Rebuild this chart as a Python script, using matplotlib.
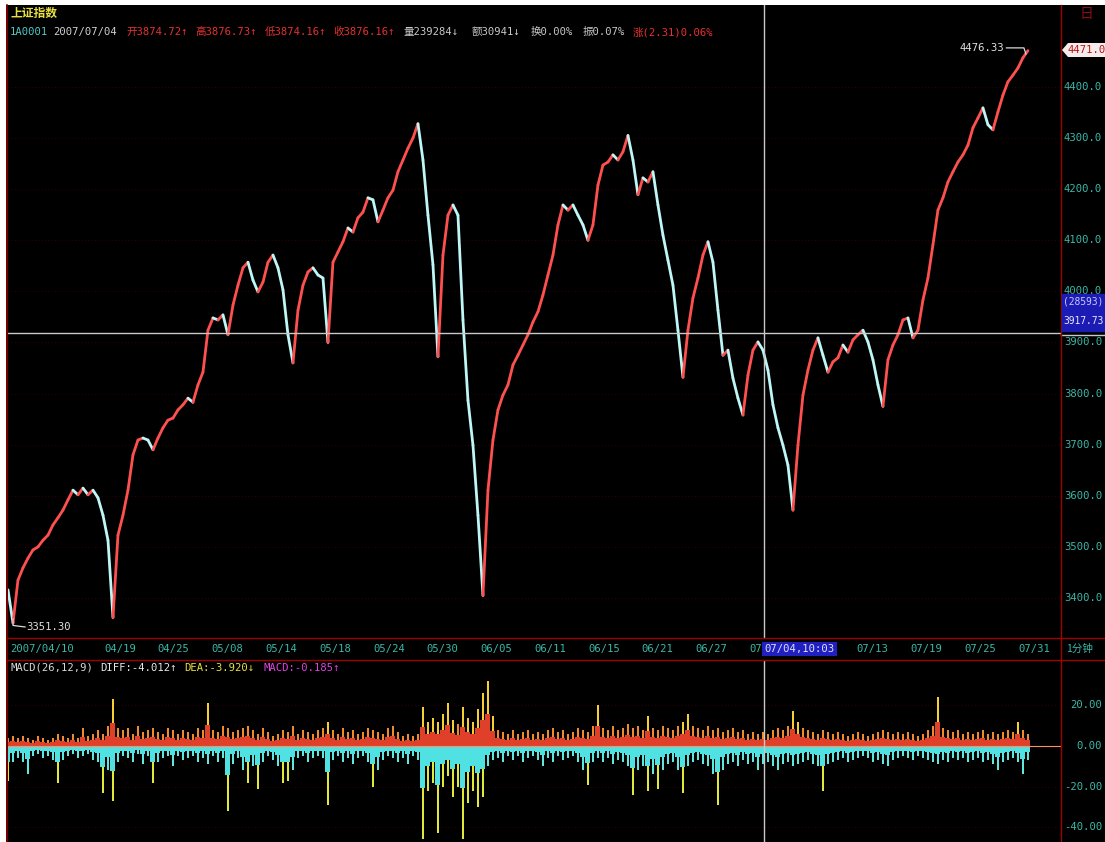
import numpy as np
import matplotlib
matplotlib.use('Agg')
import matplotlib.pyplot as plt
from matplotlib.collections import LineCollection
from matplotlib.transforms import blended_transform_factory, Bbox
from matplotlib.patches import Rectangle, Polygon

# ---------------- data ----------------
title = "上证指数"
n_days = 76  # trading days 2007/04/10 .. 2007/07/31
date_labels = ["2007/04/10", "04/19", "04/25", "05/08", "05/14", "05/18", "05/24",
               "05/30", "06/05", "06/11", "06/15", "06/21", "06/27", "07/03",
               "07/09", "07/13", "07/19", "07/25", "07/31"]
date_days = [0, 7, 11, 15, 19, 23, 27, 31, 35, 39, 43, 47, 51, 55, 59, 63, 67, 71, 75]

prices = [
    3416, 3351, 3435, 3459, 3478, 3494, 3500, 3513, 3523, 3543,
    3557, 3572, 3592, 3611, 3602, 3615, 3602, 3611, 3596, 3562,
    3513, 3362, 3523, 3562, 3611, 3680, 3709, 3713, 3709, 3690,
    3713, 3733, 3748, 3752, 3768, 3778, 3791, 3783, 3817, 3842,
    3924, 3948, 3944, 3954, 3915, 3973, 4012, 4046, 4057, 4022,
    3999, 4018, 4057, 4071, 4046, 4003, 3915, 3860, 3963, 4012,
    4038, 4046, 4032, 4026, 3900, 4057, 4077, 4097, 4124, 4116,
    4144, 4155, 4183, 4179, 4136, 4159, 4183, 4198, 4234, 4257,
    4280, 4300, 4328, 4257, 4149, 4052, 3872, 4071, 4149, 4169,
    4149, 3944, 3787, 3699, 3562, 3405, 3611, 3709, 3768, 3797,
    3817, 3856, 3875, 3895, 3915, 3940, 3960, 3993, 4032, 4071,
    4130, 4169, 4159, 4169, 4149, 4130, 4100, 4130, 4208, 4247,
    4253, 4267, 4257, 4273, 4305, 4257, 4189, 4222, 4214, 4234,
    4169, 4110, 4061, 4012, 3924, 3832, 3924, 3987, 4026, 4071,
    4097, 4057, 3963, 3875, 3885, 3830, 3791, 3758, 3836, 3885,
    3901, 3885, 3846, 3778, 3733, 3699, 3660, 3572, 3699, 3797,
    3846, 3885, 3909, 3875, 3842, 3862, 3870, 3895, 3881, 3905,
    3915, 3924, 3901, 3866, 3817, 3775, 3866, 3895, 3915, 3944,
    3948, 3909, 3924, 3983, 4026, 4091, 4159, 4183, 4214, 4234,
    4253, 4267, 4286, 4320, 4339, 4359, 4326, 4316, 4351, 4384,
    4410, 4423, 4437, 4457, 4471,
]

macd_pos = [
    4, 5, 4, 5, 4, 3, 5, 4, 3, 4,
    6, 5, 4, 6, 4, 9, 5, 6, 8, 6,
    10, 23, 9, 8, 9, 6, 10, 7, 8, 9,
    7, 6, 9, 8, 6, 8, 7, 6, 9, 8,
    21, 8, 7, 10, 9, 7, 8, 9, 10, 8,
    6, 9, 7, 5, 6, 8, 7, 10, 6, 8,
    7, 6, 8, 9, 12, 8, 6, 9, 7, 8,
    6, 7, 9, 8, 7, 6, 9, 10, 7, 5,
    6, 5, 6, 19, 12, 14, 12, 16, 21, 13,
    11, 19, 14, 12, 18, 26, 32, 15, 8, 7,
    6, 8, 6, 7, 8, 6, 7, 6, 8, 9,
    7, 8, 6, 7, 9, 8, 7, 10, 20, 9,
    8, 10, 8, 9, 11, 9, 10, 8, 15, 9,
    8, 10, 9, 8, 10, 12, 16, 10, 9, 8,
    10, 8, 9, 7, 8, 9, 7, 8, 6, 7,
    6, 7, 6, 8, 9, 8, 10, 17, 12, 9,
    8, 7, 6, 8, 7, 6, 7, 6, 5, 6,
    7, 6, 5, 6, 7, 8, 7, 6, 7, 6,
    7, 6, 5, 6, 8, 10, 24, 9, 8, 7,
    8, 6, 7, 6, 7, 8, 6, 7, 6, 7,
    8, 7, 12, 8, 6,
]

macd_neg = [
    17, 8, 6, 8, 14, 5, 4, 6, 5, 7,
    18, 7, 5, 4, 6, 5, 4, 7, 8, 23,
    12, 27, 8, 5, 6, 8, 4, 9, 5, 18,
    8, 6, 5, 10, 5, 7, 6, 5, 8, 6,
    9, 5, 8, 6, 32, 9, 6, 12, 18, 10,
    21, 8, 5, 7, 10, 18, 17, 12, 6, 5,
    8, 6, 5, 6, 29, 7, 5, 8, 6, 9,
    6, 5, 8, 20, 12, 7, 5, 6, 8, 6,
    9, 5, 7, 46, 22, 18, 43, 20, 15, 25,
    20, 46, 28, 22, 30, 25, 10, 7, 6, 8,
    5, 7, 5, 8, 6, 5, 7, 10, 6, 8,
    5, 7, 6, 5, 8, 12, 19, 8, 6, 8,
    6, 9, 7, 8, 10, 24, 12, 10, 22, 14,
    21, 12, 9, 8, 12, 23, 10, 8, 7, 9,
    10, 14, 29, 12, 9, 8, 10, 7, 9, 8,
    12, 9, 8, 10, 12, 9, 8, 10, 9, 8,
    7, 9, 10, 22, 9, 8, 7, 6, 8, 7,
    6, 5, 6, 8, 7, 9, 10, 7, 6, 5,
    6, 7, 5, 6, 7, 8, 9, 7, 8, 6,
    7, 6, 8, 7, 6, 8, 7, 9, 12, 8,
    7, 6, 8, 14, 7,
]

price_ticks = [3400, 3500, 3600, 3700, 3800, 3900, 4000, 4100, 4200, 4300, 4400]
macd_ticks = [20, 0, -20, -40]
high_value = 4476.33
low_value = 3351.30
last_value = 4471.0
cross_day = 56 + 33 / 240.0   # 07/04 10:03
cross_price = 3917.73

# ---------------- figure ----------------
W, H = 1105, 842
fig = plt.figure(figsize=(W / 100, H / 100), dpi=100, facecolor='white')


def fx(px):
    return px / W


def fy(py):
    return 1 - py / H


MONO = ['DejaVu Sans Mono', 'Noto Sans CJK SC']
CJK = ['Noto Sans CJK SC', 'DejaVu Sans']
TEAL = '#3cb8a8'
RED_LINE = '#8a0000'
FS = 7.6

bg = fig.add_axes([fx(6), 0, 1 - fx(6), fy(5)])
bg.set_facecolor('black')
bg.set_xticks([]); bg.set_yticks([])
for s in bg.spines.values():
    s.set_visible(False)

ymin_p = 3400 - (638 - 598) / 0.5111
ymax_p = 3400 + (598 - 5) / 0.5111
day_px = 13.44
xmin = -2 / day_px
xmax = 1051 / day_px

axp = fig.add_axes([fx(8), fy(638), fx(1061) - fx(8), fy(5) - fy(638)])
axm = fig.add_axes([fx(8), 0, fx(1061) - fx(8), fy(660)])
for ax in (axp, axm):
    ax.set_facecolor('black')
    ax.set_xticks([]); ax.set_yticks([])
    for s in ax.spines.values():
        s.set_visible(False)
    ax.set_xlim(xmin, xmax)
axp.set_ylim(ymin_p, ymax_p)
axm.set_ylim(-(842 - 746) / 2.03, (746 - 660) / 2.03)

n = len(prices)
xs = np.linspace(-0.15, 75.74, n)
p = np.array(prices, dtype=float)

# grid
for v in price_ticks:
    axp.axhline(v, color='#4a0000', lw=0.6, ls=(0, (1, 3)), zorder=1)
for v in [20, -20, -40]:
    axm.axhline(v, color='#4a0000', lw=0.6, ls=(0, (1, 3)), zorder=1)

# price line coloured by direction
segs = [[(xs[i - 1], p[i - 1]), (xs[i], p[i])] for i in range(1, n)]
cols = ['#ff5050' if p[i] >= p[i - 1] else '#bff6f6' for i in range(1, n)]
axp.add_collection(LineCollection(segs, colors=cols, linewidths=2.0, zorder=3,
                                  capstyle='round'))

# MACD bars: dense base band + thin spikes
mp = np.array(macd_pos, dtype=float)
mn = np.array(macd_neg, dtype=float)
bw = (xs[1] - xs[0])
pos_tip = ['#f6d030' if v >= 12 else '#f08a2a' for v in mp]
neg_tip = ['#e0e838' if v >= 15 else '#5ee8e0' for v in mn]
axm.bar(xs, mp, width=bw * 0.32, color=pos_tip, zorder=3, linewidth=0)
axm.bar(xs, mp * 0.5, width=bw * 1.0, color='#e0402a', zorder=4, linewidth=0)
axm.bar(xs, -mn, width=bw * 0.32, color=neg_tip, zorder=3, linewidth=0)
axm.bar(xs, -mn * 0.45, width=bw * 1.0, color='#50e2e2', zorder=4, linewidth=0)
axm.axhline(0, color='#ff9060', lw=0.8, zorder=5)

# crosshair
axp.axvline(cross_day, color='#c8c8c8', lw=1.0, zorder=6)
axm.axvline(cross_day, color='#c8c8c8', lw=1.0, zorder=6)
axp.axhline(cross_price, color='#c8c8c8', lw=1.0, zorder=6)
fig.add_artist(plt.Line2D([fx(1061), 1], [fy(335), fy(335)], color='#c8c8c8', lw=1.0))

# high / low annotations
axp.plot([xs[-1] - 1.6, xs[-1] - 0.3, xs[-1] - 0.15],
         [high_value, high_value, high_value - 12], color='#d8d8d8', lw=0.9, zorder=7)
axp.text(xs[-1] - 1.75, high_value, f"{high_value:.2f}", color='#e0e0e0', fontsize=FS,
         family=MONO, ha='right', va='center', zorder=7)
axp.plot([xs[1], xs[1], xs[1] + 0.9], [low_value + 8, low_value - 5, low_value - 8],
         color='#d8d8d8', lw=0.9, zorder=7)
axp.text(xs[1] + 1.0, low_value - 9, f"{low_value:.2f}", color='#e0e0e0', fontsize=FS,
         family=MONO, ha='left', va='center', zorder=7)

# frame lines
fig.add_artist(plt.Line2D([fx(7), fx(7)], [0, fy(5)], color=RED_LINE, lw=1.2))
fig.add_artist(plt.Line2D([fx(1061), fx(1061)], [0, fy(5)], color='#a00000', lw=1.0))
fig.add_artist(plt.Line2D([fx(7), 1], [fy(638), fy(638)], color='#a00000', lw=1.0))
fig.add_artist(plt.Line2D([fx(7), 1], [fy(660), fy(660)], color='#a00000', lw=1.0))

# right axis labels
tp = blended_transform_factory(fig.transFigure, axp.transData)
for v in price_ticks:
    axp.text(fx(1064), v, f"{v:.1f}", transform=tp, color=TEAL, fontsize=FS,
             family=MONO, ha='left', va='center', clip_on=False)
tm = blended_transform_factory(fig.transFigure, axm.transData)
for v in macd_ticks:
    axm.text(fx(1102), v, f"{v:.2f}", transform=tm, color=TEAL, fontsize=FS,
             family=MONO, ha='right', va='center', clip_on=False)

# cross price box on right axis
fig.add_artist(Rectangle((fx(1062), fy(331)), fx(1105) - fx(1062), fy(294) - fy(331),
                         transform=fig.transFigure, color='#1c1cb4', zorder=5))
fig.text(fx(1063), fy(302), "(28593)", color='#c8c8ff', fontsize=6.9, family=MONO,
         ha='left', va='center', zorder=6)
fig.text(fx(1063), fy(321), f"{cross_price:.2f}", color='#e8e8ff', fontsize=6.9, family=MONO,
         ha='left', va='center', zorder=6)

# last price marker
fig.add_artist(Polygon([(fx(1062), fy(50)), (fx(1068), fy(43)), (fx(1105), fy(43)),
                        (fx(1105), fy(57)), (fx(1068), fy(57))],
                       closed=True, transform=fig.transFigure, facecolor='#f4ecec',
                       edgecolor='none', zorder=5))
fig.text(fx(1068), fy(50), f"{last_value:.1f}", color='#c01010', fontsize=FS, family=MONO,
         ha='left', va='center', zorder=6)
fig.text(fx(1080), fy(14), "日", color='#8a1010', fontsize=10, family=CJK,
         ha='left', va='center')

# date axis (labels under the crosshair box are cut off by it)
td = blended_transform_factory(axp.transData, fig.transFigure)
box_left_px = axp.transData.transform((cross_day, 0))[0] - 2
for lab, d in zip(date_labels, date_days):
    t = axp.text(d, fy(649), lab, transform=td, color=TEAL, fontsize=FS, family=MONO,
                 ha='left', va='center', clip_on=False, zorder=2)
    lab_left = axp.transData.transform((d, 0))[0]
    if lab_left >= box_left_px - 60 and lab_left < box_left_px + 80:
        if lab_left >= box_left_px:
            t.set_visible(False)
        else:
            t.set_clip_box(Bbox([[0, 0], [box_left_px, fig.bbox.height]]))
            t.set_clip_on(True)
            t.set_text(lab[:2])
fig.text(fx(1066), fy(649), "1分钟", color=TEAL, fontsize=FS, family=CJK,
         ha='left', va='center')
axp.text(cross_day, fy(649), "07/04,10:03", transform=td, color='#e0e0ff', fontsize=FS,
         family=MONO, ha='left', va='center', clip_on=False, zorder=8,
         bbox=dict(boxstyle='square,pad=0.2', facecolor='#2020c0', edgecolor='none'))

# header texts
fig.text(fx(10), fy(13), title, color='#e8e040', fontsize=8.5, family=CJK,
         ha='left', va='center', weight='bold')
info = [("1A0001", 10, '#50c8c8'), ("2007/07/04", 53, '#d0d0d0'),
        ("开3874.72↑", 126, '#e83030'), ("高3876.73↑", 195, '#e83030'),
        ("低3874.16↑", 265, '#e83030'), ("收3876.16↑", 333, '#e83030'),
        ("量239284↓", 404, '#c8c8c8'), ("额30941↓", 472, '#c8c8c8'),
        ("换0.00%", 531, '#c8c8c8'), ("振0.07%", 583, '#c8c8c8'),
        ("涨(2.31)0.06%", 633, '#e83030')]
for txt, x, c in info:
    fig.text(fx(x), fy(32), txt, color=c, fontsize=FS, family=MONO, ha='left', va='center')

macd_hdr = [("MACD(26,12,9)", 10, '#d8d8d8'), ("DIFF:-4.012↑", 100, '#e8e8e8'),
            ("DEA:-3.920↓", 184, '#e8e040'), ("MACD:-0.185↑", 264, '#e040e0')]
for txt, x, c in macd_hdr:
    fig.text(fx(x), fy(668), txt, color=c, fontsize=FS, family=MONO, ha='left', va='center')

fig.savefig('out.png', dpi=100, facecolor=fig.get_facecolor())
